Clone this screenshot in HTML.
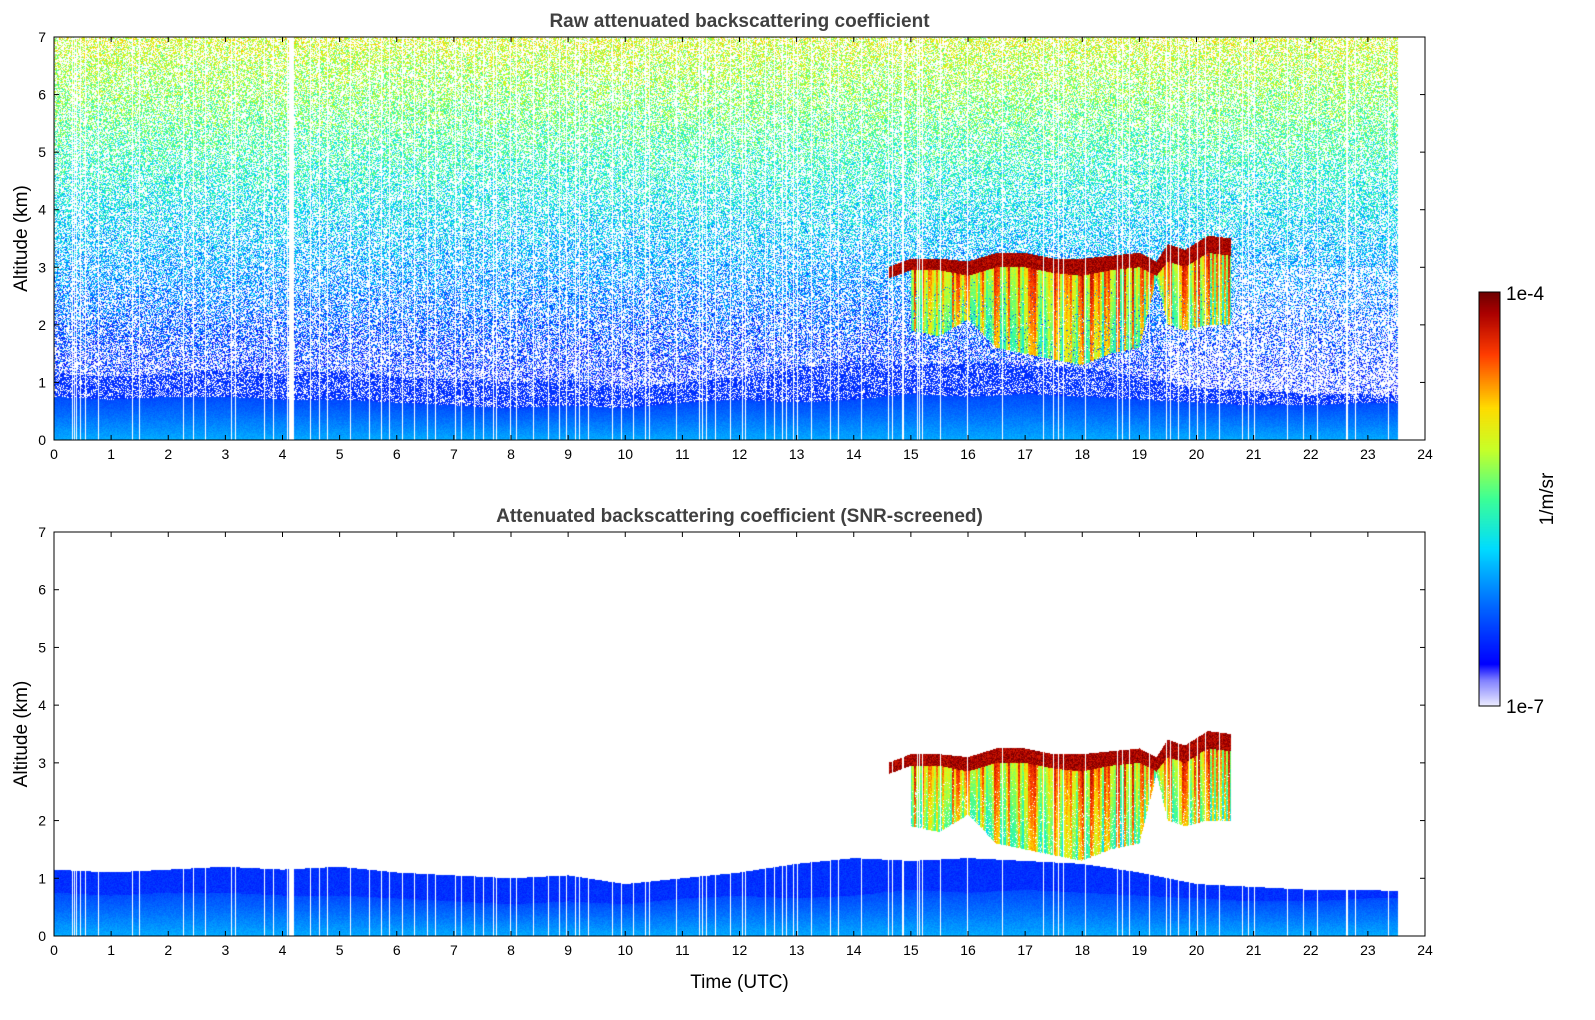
<!DOCTYPE html>
<html><head><meta charset="utf-8">
<style>
body{margin:0;background:#fff;width:1595px;height:1020px;overflow:hidden;font-family:"Liberation Sans",sans-serif}
#wrap{position:relative;width:1595px;height:1020px}
canvas{position:absolute}
svg{position:absolute;left:0;top:0}
</style></head><body>
<div id="wrap">
<canvas id="c1" width="1371" height="403" style="left:54px;top:37px"></canvas>
<canvas id="c2" width="1371" height="404" style="left:54px;top:532px"></canvas>
<canvas id="cb" width="21" height="414" style="left:1479px;top:292px"></canvas>
<svg id="ax" width="1595" height="1020"></svg>
</div>
<script>
// ---- data ----
const hours = [0,1,2,3,4,5,6,7,8,9,10,11,12,13,14,15,16,17,18,19,20,21,22,23,24];
const blDense = [0.75,0.7,0.75,0.75,0.7,0.7,0.65,0.6,0.55,0.6,0.55,0.65,0.7,0.65,0.7,0.8,0.75,0.8,0.75,0.7,0.65,0.6,0.6,0.65,0.65];
const blSnrTop = [1.15,1.1,1.15,1.2,1.15,1.2,1.1,1.05,1.0,1.05,0.9,1.0,1.1,1.25,1.35,1.3,1.35,1.3,1.25,1.1,0.9,0.85,0.8,0.8,0.75];
const cloudT = [14.6,15.0,15.5,16.0,16.5,17.0,17.5,18.0,18.5,19.0,19.3,19.5,19.8,20.2,20.6];
const cloudTop = [3.0,3.15,3.15,3.1,3.25,3.25,3.15,3.15,3.2,3.25,3.1,3.4,3.3,3.55,3.5];
const cloudBot = [2.8,2.95,2.95,2.85,3.0,3.0,2.9,2.85,2.95,3.0,2.85,3.1,3.0,3.25,3.2];
const fallBot = [2.9,1.9,1.8,2.1,1.6,1.5,1.4,1.3,1.5,1.6,2.8,2.0,1.9,2.0,2.0];
const dataEnd = 23.55;
const xTicks = hours;
const yTicks = [0,1,2,3,4,5,6,7];

// ---- helpers ----
const X0=54,W=1371,XMAX=24,ZMAX=7;
function interp(xs,ys,x){if(x<=xs[0])return ys[0];for(let i=1;i<xs.length;i++){if(x<=xs[i]){const f=(x-xs[i-1])/(xs[i]-xs[i-1]);return ys[i-1]+f*(ys[i]-ys[i-1]);}}return ys[ys.length-1];}
function hsh(a,b){let h=(a*374761393+b*668265263)|0;h=(h^(h>>>13))*1274126177|0;h=h^(h>>>16);return (h>>>0)/4294967296;}
const stops=[[0,[235,235,255]],[0.06,[130,130,255]],[0.1,[0,0,255]],[0.25,[0,110,255]],[0.38,[0,220,255]],[0.5,[60,255,150]],[0.62,[200,255,40]],[0.72,[255,220,0]],[0.85,[255,60,0]],[0.95,[170,0,0]],[1,[110,0,0]]];
function cmap(v){v=Math.max(0,Math.min(1,v));for(let i=1;i<stops.length;i++){if(v<=stops[i][0]){const a=stops[i-1],b=stops[i];const f=(v-a[0])/(b[0]-a[0]);return [0,1,2].map(k=>Math.round(a[1][k]+f*(b[1][k]-a[1][k])));}}return stops[stops.length-1][1];}

function cloudVal(t,z,col,row){
  if(t<cloudT[0]||t>cloudT[cloudT.length-1])return null;
  const top=interp(cloudT,cloudTop,t),bot=interp(cloudT,cloudBot,t),fb=interp(cloudT,fallBot,t);
  if(z<=top&&z>=bot){return 0.9+0.1*hsh(col,row+7);}
  if(t>15.0&&z<bot&&z>=fb){const s=hsh(col>>1,99);const f=(bot-z)/(bot-fb);const v=0.5+0.4*s-0.15*f+0.08*hsh(col,row);if(hsh(col,row+3)<0.15*f)return null;return v;}
  return null;
}
function draw(id,snr){
  const cv=document.getElementById(id),ctx=cv.getContext('2d');const H=cv.height;
  const img=ctx.createImageData(W,H),d=img.data;
  for(let c=0;c<W;c++){
    const t=(c+0.5)/W*XMAX;
    const gap=t>dataEnd||(t>4.12&&t<4.2)||hsh(c,1)<0.07;
    const bd=interp(hours,blDense,t),bs=interp(hours,blSnrTop,t);
    for(let r=0;r<H;r++){
      const z=(H-r-0.5)/H*ZMAX;let col=null;
      if(!gap){
        let v=cloudVal(t,z,c,r);
        if(v===null){
          if(z<bd){v=0.3-0.12*z/bd+0.04*hsh(c,r);}
          else if(z<bs){ if(snr||hsh(c,r+11)<0.7) v=0.14+0.05*hsh(c,r);}
          else if(!snr){
            let pw=0.5+(t>19.5&&z<3?0.15:0);
            if(hsh(c,r+5)>pw) v=0.05+0.085*z+0.24*(hsh(r,c+3)-0.5);
          }
        }
        if(v!==null)col=cmap(v);
      }
      const i=(r*W+c)*4;
      if(col){d[i]=col[0];d[i+1]=col[1];d[i+2]=col[2];}else{d[i]=d[i+1]=d[i+2]=255;}
      d[i+3]=255;
    }
  }
  ctx.putImageData(img,0,0);
}
draw('c1',false);draw('c2',true);
(function(){const cv=document.getElementById('cb'),ctx=cv.getContext('2d');for(let r=0;r<cv.height;r++){const c=cmap(1-r/(cv.height-1));ctx.fillStyle=`rgb(${c[0]},${c[1]},${c[2]})`;ctx.fillRect(0,r,21,1);}})();

// ---- axes ----
const svg=document.getElementById('ax');const NS='http://www.w3.org/2000/svg';
function el(tag,attrs,txt){const e=document.createElementNS(NS,tag);for(const k in attrs)e.setAttribute(k,attrs[k]);if(txt!==undefined)e.textContent=txt;svg.appendChild(e);return e;}
function axes(top,bottom,title,showX){
  const xs=t=>X0+t/XMAX*W, ys=z=>bottom-z/ZMAX*(bottom-top);
  const fr=el('rect',{x:X0,y:top,width:W,height:bottom-top,fill:'none',stroke:'#000','stroke-width':1});
  
  xTicks.forEach(t=>{const x=xs(t);el('line',{x1:x,x2:x,y1:bottom,y2:bottom-5,stroke:'#000'});el('line',{x1:x,x2:x,y1:top,y2:top+5,stroke:'#000'});
    const l=el('text',{x:x,y:bottom+19,'text-anchor':'middle','font-size':14},String(t));});
  yTicks.forEach(z=>{const y=ys(z);el('line',{x1:X0,x2:X0+5,y1:y,y2:y,stroke:'#000'});el('line',{x1:X0+W,x2:X0+W-5,y1:y,y2:y,stroke:'#000'});
    const l=el('text',{x:X0-8,y:y+5,'text-anchor':'end','font-size':14},String(z));});
  const tt=el('text',{x:X0+W/2,y:top-10,'text-anchor':'middle','font-size':19,'font-weight':'bold',fill:'#404040'},title);
  const yl=el('text',{x:0,y:0,'text-anchor':'middle','font-size':19,transform:`translate(27,${(top+bottom)/2}) rotate(-90)`},'Altitude (km)');
  if(showX){const xl=el('text',{x:X0+W/2,y:bottom+52,'text-anchor':'middle','font-size':19},'Time (UTC)');}
}
axes(37,440,'Raw attenuated backscattering coefficient',false);
axes(532,936,'Attenuated backscattering coefficient (SNR-screened)',true);
const cbf=el('rect',{x:1479,y:292,width:21,height:414,fill:'none',stroke:'#000'});
const c1=el('text',{x:1506,y:300,'font-size':19},'1e-4');
const c2=el('text',{x:1506,y:713,'font-size':19},'1e-7');
const cu=el('text',{x:0,y:0,'text-anchor':'middle','font-size':19,transform:'translate(1553,499) rotate(-90)'},'1/m/sr');
</script>
</body></html>
